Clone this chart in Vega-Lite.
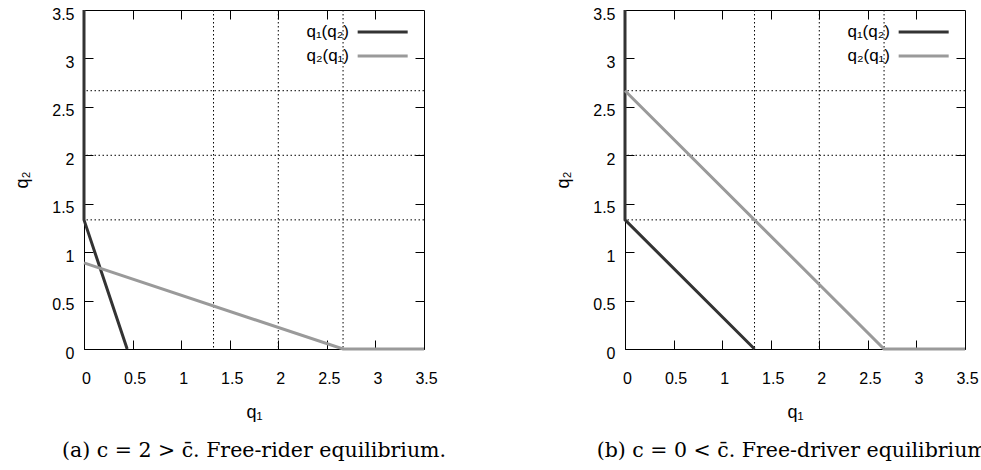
{
  "$schema": "https://vega.github.io/schema/vega-lite/v6.json",
  "background": "white",
  "padding": {"left": 13, "top": 3, "right": 0, "bottom": 0},
  "datasets": {
    "curves": [
      {"panel": "a", "series": "q₁(q₂)", "i": 0, "q1": 0, "q2": 3.5},
      {"panel": "a", "series": "q₁(q₂)", "i": 1, "q1": 0, "q2": 1.3333},
      {"panel": "a", "series": "q₁(q₂)", "i": 2, "q1": 0.4444, "q2": 0},
      {"panel": "a", "series": "q₂(q₁)", "i": 0, "q1": 0, "q2": 0.8889},
      {"panel": "a", "series": "q₂(q₁)", "i": 1, "q1": 2.6667, "q2": 0},
      {"panel": "a", "series": "q₂(q₁)", "i": 2, "q1": 3.5, "q2": 0},
      {"panel": "b", "series": "q₁(q₂)", "i": 0, "q1": 0, "q2": 3.5},
      {"panel": "b", "series": "q₁(q₂)", "i": 1, "q1": 0, "q2": 1.3333},
      {"panel": "b", "series": "q₁(q₂)", "i": 2, "q1": 1.3333, "q2": 0},
      {"panel": "b", "series": "q₂(q₁)", "i": 0, "q1": 0, "q2": 2.6667},
      {"panel": "b", "series": "q₂(q₁)", "i": 1, "q1": 2.6667, "q2": 0},
      {"panel": "b", "series": "q₂(q₁)", "i": 2, "q1": 3.5, "q2": 0}
    ],
    "grid": [{"v": 1.3333}, {"v": 2}, {"v": 2.6667}]
  },
  "config": {
    "font": "Liberation Sans",
    "view": {"stroke": "black", "strokeWidth": 1},
    "axis": {
      "domain": false,
      "grid": false,
      "tickSize": -9,
      "tickColor": "black",
      "tickWidth": 1,
      "labelColor": "black",
      "labelFontSize": 16,
      "labelFlush": false,
      "labelOverlap": false,
      "titleColor": "black",
      "titleFontSize": 18,
      "titleFontWeight": "normal"
    },
    "legend": {
      "title": null,
      "orient": "none",
      "legendX": 272,
      "legendY": 12,
      "symbolType": "M-1,0H5",
      "symbolSize": 278,
      "symbolStrokeWidth": 3,
      "labelAlign": "right",
      "labelOffset": -27,
      "labelFontSize": 17,
      "labelColor": "black",
      "rowPadding": 6,
      "padding": 0
    },
    "title": {
      "orient": "bottom",
      "frame": "group",
      "anchor": "middle",
      "font": "DejaVu Serif",
      "fontSize": 20.5,
      "fontWeight": "normal",
      "color": "black",
      "offset": 20
    }
  },
  "bounds": "flush",
  "spacing": 201,
  "resolve": {"scale": {"color": "independent"}},
  "hconcat": [
    {
      "width": 340,
      "height": 339,
      "title": "(a) c = 2 > c̄. Free-rider equilibrium.",
      "resolve": {"axis": {"x": "independent", "y": "independent"}},
      "layer": [
        {
          "data": {"name": "grid"},
          "mark": {"type": "rule", "color": "black", "strokeWidth": 1, "strokeDash": [1.5, 2.5]},
          "encoding": {
            "x": {"field": "v", "type": "quantitative",
                  "scale": {"domain": [0, 3.5], "nice": false, "zero": false},
                  "axis": {"orient": "top", "values": [0.5, 1, 1.5, 2, 2.5, 3], "labels": false, "title": null}}
          }
        },
        {
          "data": {"name": "grid"},
          "mark": {"type": "rule", "color": "black", "strokeWidth": 1, "strokeDash": [1.5, 2.5]},
          "encoding": {
            "y": {"field": "v", "type": "quantitative",
                  "scale": {"domain": [0, 3.5], "nice": false, "zero": false},
                  "axis": {"orient": "right", "values": [0.5, 1, 1.5, 2, 2.5, 3], "labels": false, "title": null}}
          }
        },
        {
          "data": {"name": "curves"},
          "transform": [{"filter": "datum.panel === 'a'"}],
          "mark": {"type": "line", "strokeWidth": 3},
          "encoding": {
            "x": {"field": "q1", "type": "quantitative",
                  "scale": {"domain": [0, 3.5], "nice": false, "zero": false},
                  "axis": {"orient": "bottom", "values": [0, 0.5, 1, 1.5, 2, 2.5, 3, 3.5], "format": "~g",
                           "labelPadding": 30, "labelOffset": 2, "title": "q₁", "titlePadding": 17}},
            "y": {"field": "q2", "type": "quantitative",
                  "scale": {"domain": [0, 3.5], "nice": false, "zero": false},
                  "axis": {"orient": "left", "values": [0, 0.5, 1, 1.5, 2, 2.5, 3, 3.5], "format": "~g",
                           "labelPadding": 19, "labelOffset": 4, "title": "q₂", "titlePadding": 20}},
            "color": {"field": "series", "type": "nominal",
                      "scale": {"domain": ["q₁(q₂)", "q₂(q₁)"], "range": ["#333333", "#9a9a9a"]}},
            "order": {"field": "i", "type": "quantitative"}
          }
        }
      ]
    },
    {
      "width": 340,
      "height": 339,
      "title": "(b) c = 0 < c̄. Free-driver equilibrium.",
      "resolve": {"axis": {"x": "independent", "y": "independent"}},
      "layer": [
        {
          "data": {"name": "grid"},
          "mark": {"type": "rule", "color": "black", "strokeWidth": 1, "strokeDash": [1.5, 2.5]},
          "encoding": {
            "x": {"field": "v", "type": "quantitative",
                  "scale": {"domain": [0, 3.5], "nice": false, "zero": false},
                  "axis": {"orient": "top", "values": [0.5, 1, 1.5, 2, 2.5, 3], "labels": false, "title": null}}
          }
        },
        {
          "data": {"name": "grid"},
          "mark": {"type": "rule", "color": "black", "strokeWidth": 1, "strokeDash": [1.5, 2.5]},
          "encoding": {
            "y": {"field": "v", "type": "quantitative",
                  "scale": {"domain": [0, 3.5], "nice": false, "zero": false},
                  "axis": {"orient": "right", "values": [0.5, 1, 1.5, 2, 2.5, 3], "labels": false, "title": null}}
          }
        },
        {
          "data": {"name": "curves"},
          "transform": [{"filter": "datum.panel === 'b'"}],
          "mark": {"type": "line", "strokeWidth": 3},
          "encoding": {
            "x": {"field": "q1", "type": "quantitative",
                  "scale": {"domain": [0, 3.5], "nice": false, "zero": false},
                  "axis": {"orient": "bottom", "values": [0, 0.5, 1, 1.5, 2, 2.5, 3, 3.5], "format": "~g",
                           "labelPadding": 30, "labelOffset": 2, "title": "q₁", "titlePadding": 17}},
            "y": {"field": "q2", "type": "quantitative",
                  "scale": {"domain": [0, 3.5], "nice": false, "zero": false},
                  "axis": {"orient": "left", "values": [0, 0.5, 1, 1.5, 2, 2.5, 3, 3.5], "format": "~g",
                           "labelPadding": 19, "labelOffset": 4, "title": "q₂", "titlePadding": 20}},
            "color": {"field": "series", "type": "nominal",
                      "scale": {"domain": ["q₁(q₂)", "q₂(q₁)"], "range": ["#333333", "#9a9a9a"]}},
            "order": {"field": "i", "type": "quantitative"}
          }
        }
      ]
    }
  ]
}
